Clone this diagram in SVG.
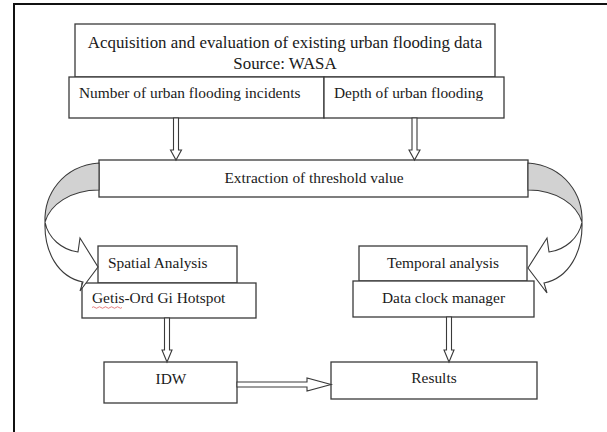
<svg xmlns="http://www.w3.org/2000/svg" width="607" height="432" viewBox="0 0 607 432">
<style>
.box{fill:#fff;stroke:#3a3a3a;stroke-width:1.3}
.t{font-family:"Liberation Serif","Times New Roman",serif;font-size:15.4px;fill:#1a1a1a}
.big{font-size:16.9px}
.c{text-anchor:middle}
.arr{fill:#fff;stroke:#3a3a3a;stroke-width:1.1;stroke-linejoin:miter}
.band{fill:#d2d2d2;stroke:#3a3a3a;stroke-width:1.1}
</style>
<rect width="607" height="432" fill="#fff"/>
<path d="M14,432 V4 H607" fill="none" stroke="#111" stroke-width="2"/>

<g id="acquisition">
<rect class="box" x="75" y="24" width="420" height="53"/>
<text class="t big c" x="285" y="48">Acquisition and evaluation of existing urban flooding data</text>
<text class="t big c" x="285" y="69">Source: WASA</text>
</g>
<g id="incidents">
<rect class="box" x="69" y="77" width="255" height="41"/>
<text class="t" x="79" y="98">Number of urban flooding incidents</text>
</g>
<g id="depth">
<rect class="box" x="324" y="77" width="180" height="41"/>
<text class="t" x="334" y="98">Depth of urban flooding</text>
</g>
<g id="extraction">
<rect class="box" x="99" y="160" width="429" height="37"/>
<text class="t c" x="314" y="183">Extraction of threshold value</text>
</g>
<g id="spatial">
<rect class="box" x="98" y="246" width="139" height="37"/>
<text class="t" x="108" y="268">Spatial Analysis</text>
</g>
<g id="getis">
<rect class="box" x="82" y="283" width="174" height="35"/>
<text class="t" x="92" y="303">Getis-Ord Gi Hotspot</text>
<path d="M92,307.5 q1.5,-1.5 3,0 t3,0 t3,0 t3,0 t3,0 t3,0 t3,0 t3,0 t3,0 t3,0" fill="none" stroke="#e06060" stroke-width="0.8"/>
</g>
<g id="temporal">
<rect class="box" x="359" y="246" width="168" height="35"/>
<text class="t c" x="443" y="268">Temporal analysis</text>
</g>
<g id="dataclock">
<rect class="box" x="353" y="281" width="181" height="36"/>
<text class="t c" x="443.5" y="303">Data clock manager</text>
</g>
<g id="idw">
<rect class="box" x="104" y="362" width="133" height="41"/>
<text class="t c" x="171" y="384">IDW</text>
</g>
<g id="results">
<rect class="box" x="331" y="362" width="206" height="37"/>
<text class="t c" x="434" y="383">Results</text>
</g>

<g id="connectors">
<polygon class="arr" points="173.5,118 178.5,118 178.5,150 181.5,150 176,160 170.5,150 173.5,150"/>
<polygon class="arr" points="412,118 417,118 417,150 420,150 414.5,160 409,150 412,150"/>
<polygon class="arr" points="164.5,318 169.5,318 169.5,350 172,350 167,362 162,350 164.5,350"/>
<polygon class="arr" points="446.5,317 451.5,317 451.5,350 454,350 449,362 444,350 446.5,350"/>
<polygon class="arr" points="237,382 307,382 307,378 331,384.5 307,391 307,387 237,387"/>
<path class="band" d="M99,163 C62,166 44,195 45,222 C50,205 70,190 99,190 Z"/>
<path class="arr" d="M45,222 C48,238 62,250 78,252 L80,238 L98,267 L80,291 L83,282 C58,277 44,252 45,222 Z"/>
<path class="band" d="M528,163 C565,166 583,195 582,222 C577,205 557,190 528,190 Z"/>
<path class="arr" d="M582,222 C579,238 565,250 549,252 L547,238 L528,268 L547,293 L544,283 C569,278 583,252 582,222 Z"/>
</g>
</svg>
